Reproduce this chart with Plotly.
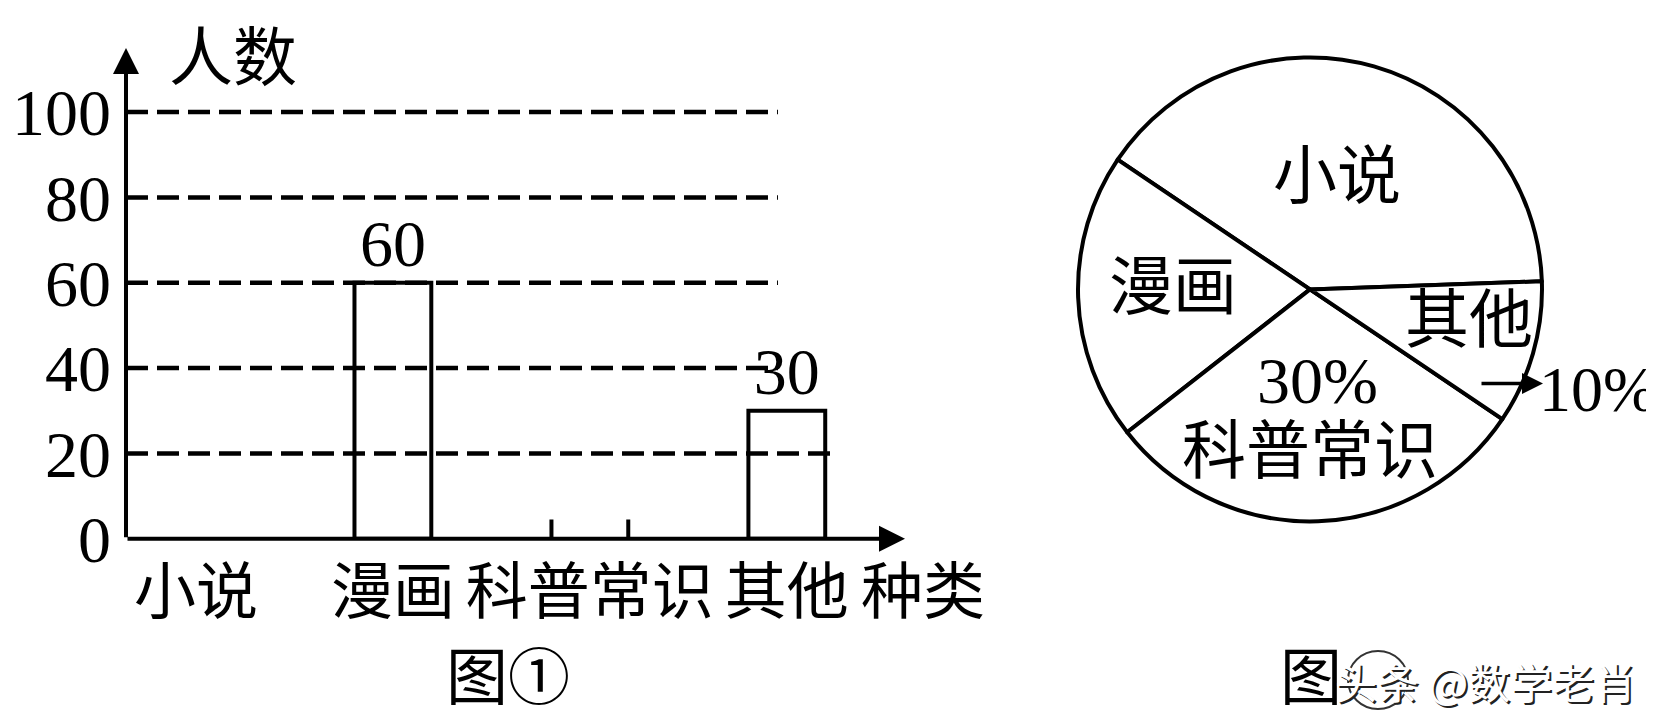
import plotly.graph_objects as go

# ---------------- datos ----------------
categories = ["小说", "漫画", "科普常识", "其他"]
bar_counts = [None, 60, None, 30]      # 图① : solo se dibujan 漫画 y 其他
pie_percent = [40, 20, 30, 10]         # 图② : porcentaje de cada sector
y_ticks = [0, 20, 40, 60, 80, 100]
x_title = "种类"
y_title = "人数"
fig1_title = "图①"
fig2_title = "图"
watermark = "头条 @数学老肖"

W, H = 1654, 726
# la pagina se ve desplazada 8px (margen del body) y con ~688px de alto util
OX, OY, H_EFF = 8, 8, 688
FONT = "Liberation Serif, Noto Sans CJK SC"
CJK = "Noto Sans CJK SC"


def px(x):
    return (x - OX) / W


def py(y):
    return 1 - (y - OY) / H_EFF


x_lo, x_hi = -0.355, 3.60
y_hi = 115
bar_w = 0.39

fig = go.Figure()

# barras (blancas con borde negro)
fig.add_trace(go.Bar(
    x=list(range(len(categories))), y=bar_counts,
    width=bar_w,
    marker=dict(color="white", line=dict(color="black", width=4)),
    text=[("" if v is None else str(v)) for v in bar_counts],
    textposition="outside",
    textfont=dict(family=FONT, size=66, color="black"),
    cliponaxis=False,
    showlegend=False, hoverinfo="skip",
))

# arranque de la barra de 科普常识 (sin terminar)
stub_h = 4.5
i_k = categories.index("科普常识")
fig.add_trace(go.Scatter(
    x=[i_k - bar_w / 2, i_k - bar_w / 2, None, i_k + bar_w / 2, i_k + bar_w / 2],
    y=[0, stub_h, None, 0, stub_h],
    mode="lines", line=dict(color="black", width=4),
    showlegend=False, hoverinfo="skip",
))

# sectores
fig.add_trace(go.Pie(
    labels=categories, values=pie_percent,
    sort=False, direction="counterclockwise", rotation=-56,
    marker=dict(colors=["white"] * len(categories), line=dict(color="black", width=4)),
    textinfo="none", hoverinfo="skip", showlegend=False,
    domain=dict(x=[px(1078), px(1542)], y=[py(522), py(56)]),
))

# lineas discontinuas
shapes = []
for t in y_ticks[1:]:
    x_end = 3.23 if t == 20 else 2.955
    shapes.append(dict(type="line", xref="x", yref="y", x0=x_lo, x1=x_end, y0=t, y1=t,
                       line=dict(color="black", width=4.5, dash="22px,9px")))
# logo del watermark
shapes.append(dict(type="circle", xref="paper", yref="paper",
                   x0=px(1348), x1=px(1408), y0=py(708), y1=py(650),
                   line=dict(color="#333", width=2)))


def label(x, y, text, size=64, **kw):
    d = dict(x=px(x), y=py(y), xref="paper", yref="paper", text=text, showarrow=False,
             xanchor="center", yanchor="middle",
             font=dict(family=FONT, size=size, color="black"))
    d.update(kw)
    return d


annotations = [
    # ejes con flecha
    dict(x=x_hi, y=0, ax=x_lo, ay=0, xref="x", yref="y", axref="x", ayref="y",
         text="", showarrow=True, arrowhead=2, arrowsize=1.3, arrowwidth=4, arrowcolor="black"),
    dict(x=x_lo, y=y_hi, ax=x_lo, ay=0, xref="x", yref="y", axref="x", ayref="y",
         text="", showarrow=True, arrowhead=2, arrowsize=1.3, arrowwidth=4, arrowcolor="black"),
    label(233, 58, y_title),
    label(923, 592, x_title, 62),
    label(508, 678, fig1_title, 62),
    # textos del grafico de sectores
    label(1337, 176, categories[0]),
    label(1173, 287, categories[1]),
    label(1317, 380, f"{pie_percent[2]}%", 66),
    label(1310, 451, categories[2]),
    label(1469, 320, categories[3]),
    label(1537, 389, f"{pie_percent[3]}%", 64, xanchor="left"),
    dict(x=px(1543), y=py(383), xref="paper", yref="paper", ax=-63, ay=0, text="",
         showarrow=True, arrowhead=2, arrowsize=1.2, arrowwidth=3.5, arrowcolor="black"),
    label(1311, 678, fig2_title, 62),
    label(1333, 680, watermark, 42, xanchor="left",
          font=dict(family=CJK, size=42, color="white", shadow="2px 2px 0px #222")),
]

fig.update_layout(
    width=W, height=H,
    margin=dict(l=0, r=0, t=0, b=0),
    paper_bgcolor="white", plot_bgcolor="white",
    xaxis=dict(domain=[px(126), px(905)], range=[x_lo, x_hi],
               tickvals=list(range(len(categories))), ticktext=categories,
               tickfont=dict(family=FONT, size=62, color="black"),
               showgrid=False, zeroline=False, showline=False, ticks="",
               ticklabelstandoff=12),
    yaxis=dict(domain=[py(538), py(48)], range=[0, y_hi],
               tickvals=y_ticks,
               tickfont=dict(family=FONT, size=66, color="black"),
               showgrid=False, zeroline=False, showline=False, ticks="",
               ticklabelstandoff=14),
    shapes=shapes,
    annotations=annotations,
)

fig.write_html("out.html")
